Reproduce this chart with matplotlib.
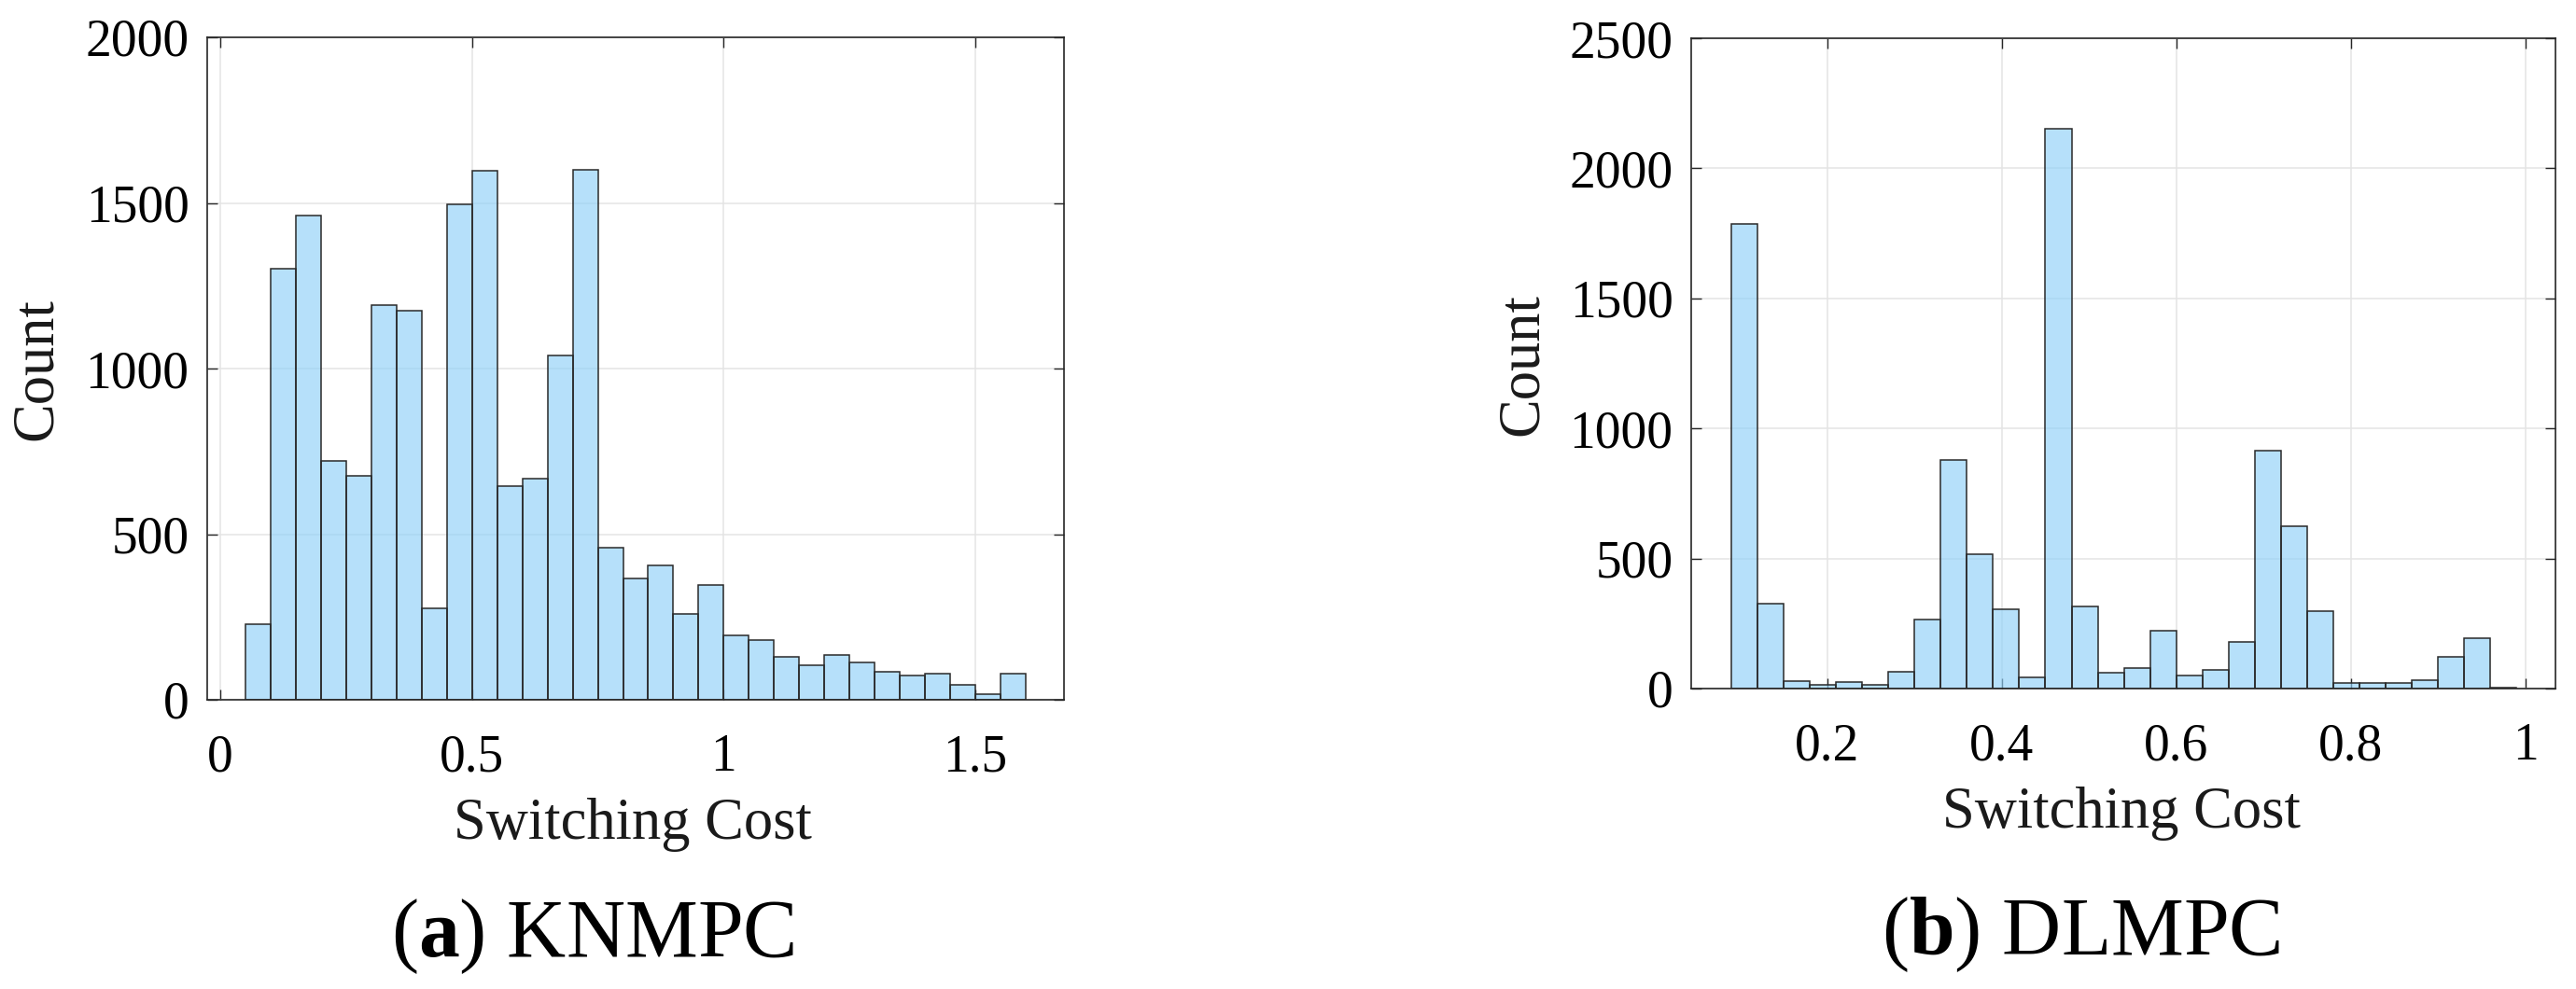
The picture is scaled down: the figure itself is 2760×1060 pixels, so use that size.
import numpy as np
import matplotlib
matplotlib.use('Agg')
import matplotlib.pyplot as plt

plt.rcParams['font.family'] = ['Liberation Serif', 'DejaVu Serif']
plt.rcParams['mathtext.fontset'] = 'custom'
plt.rcParams['mathtext.rm'] = 'Liberation Serif'
plt.rcParams['mathtext.bf'] = 'Liberation Serif:bold'

# (a) KNMPC: bins of width 0.05 starting at 0.05
knmpc_edges = np.round(np.arange(0.05, 1.6001, 0.05), 3)
knmpc_counts = [228, 1301, 1462, 720, 676, 1192, 1175, 277, 1497, 1596,
                645, 669, 1039, 1600, 459, 365, 407, 259, 347, 193,
                179, 130, 103, 134, 112, 85, 74, 80, 46, 18, 78]

# (b) DLMPC: bins of width 0.03 starting at 0.09
dlmpc_edges = np.round(np.arange(0.09, 0.9901, 0.03), 3)
dlmpc_counts = [1786, 326, 30, 16, 25, 14, 66, 267, 879, 516,
                306, 44, 2151, 315, 62, 78, 221, 50, 73, 178,
                915, 623, 297, 23, 20, 23, 34, 121, 194, 5]

knmpc_xticks = [0, 0.5, 1, 1.5]
knmpc_xlabels = ['0', '0.5', '1', '1.5']
dlmpc_xticks = [0.2, 0.4, 0.6, 0.8, 1.0]
dlmpc_xlabels = ['0.2', '0.4', '0.6', '0.8', '1']

W, H = 2760, 1060
fig = plt.figure(figsize=(W / 100, H / 100), dpi=100)

axes_px = [(222, 40, 1140, 750), (1812, 41, 2738, 738)]


def make_ax(box):
    x0, y0, x1, y1 = box
    return fig.add_axes([x0 / W, 1 - y1 / H, (x1 - x0) / W, (y1 - y0) / H])


def style(ax, ymax, xticks, xlabels):
    ax.set_ylim(0, ymax)
    ax.set_yticks(np.arange(0, ymax + 1, 500))
    ax.set_xticks(xticks)
    ax.set_xticklabels(xlabels)
    ax.set_axisbelow(True)
    ax.grid(True, color='#e4e4e4', linewidth=1.1)
    ax.tick_params(direction='in', top=True, right=True, length=8,
                   width=1.0, color='#262626', labelsize=40)
    ax.tick_params(axis='x', pad=26)
    ax.tick_params(axis='y', pad=14)
    for s in ax.spines.values():
        s.set_color('#262626')
        s.set_linewidth(1.2)


bar_face = '#8fd0f8'

ax1 = make_ax(axes_px[0])
ax1.bar(knmpc_edges[:-1], knmpc_counts[:len(knmpc_edges) - 1], width=0.05, align='edge',
        color=bar_face, alpha=0.65, edgecolor='none')
ax1.bar(knmpc_edges[:-1], knmpc_counts[:len(knmpc_edges) - 1], width=0.05, align='edge',
        fill=False, edgecolor='#2a2a2a', linewidth=1.1)
ax1.set_xlim(-0.026, 1.676)
style(ax1, 2000, knmpc_xticks, knmpc_xlabels)

ax2 = make_ax(axes_px[1])
ax2.bar(dlmpc_edges[:-1], dlmpc_counts, width=0.03, align='edge',
        color=bar_face, alpha=0.65, edgecolor='none')
ax2.bar(dlmpc_edges[:-1], dlmpc_counts, width=0.03, align='edge',
        fill=False, edgecolor='#2a2a2a', linewidth=1.1)
ax2.set_xlim(0.0442, 1.0345)
style(ax2, 2500, dlmpc_xticks, dlmpc_xlabels)

# axis labels and captions, placed in figure pixels
def ftext(x, y, s, **kw):
    fig.text(x / W, 1 - y / H, s, **kw)

ftext(678, 899, 'Switching Cost', ha='center', va='baseline', fontsize=45, color='#1a1a1a')
ftext(2273, 887, 'Switching Cost', ha='center', va='baseline', fontsize=45, color='#1a1a1a')
ftext(40, 396, 'Count', ha='center', va='center', rotation=90, fontsize=45, color='#1a1a1a')
ftext(1632, 391, 'Count', ha='center', va='center', rotation=90, fontsize=45, color='#1a1a1a')

ftext(635, 1025, r'($\mathbf{a}$) KNMPC', ha='center', va='baseline', fontsize=63)
ftext(2230, 1023, r'($\mathbf{b}$) DLMPC', ha='center', va='baseline', fontsize=63)

fig.savefig('out.png', dpi=100, facecolor='white')
